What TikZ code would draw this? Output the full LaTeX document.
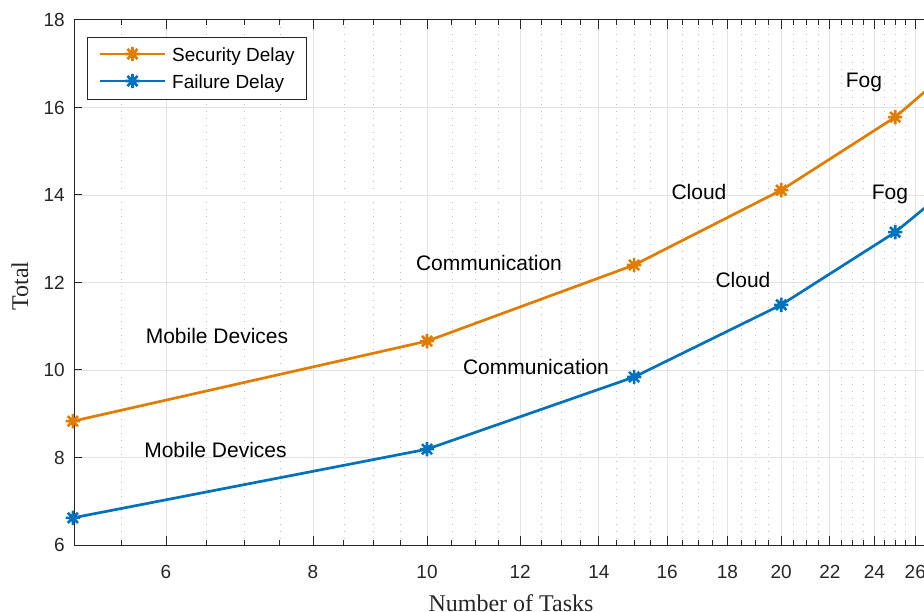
\documentclass[tikz,border=0pt]{standalone}
\usepackage{fontspec}
\usetikzlibrary{calc}
\setmainfont{Liberation Serif}
\newfontfamily\arialfam{Liberation Sans}
\definecolor{axisgray}{RGB}{38,38,38}
\definecolor{gridmajor}{RGB}{226,226,226}
\definecolor{gridminor}{RGB}{190,190,190}
\definecolor{secorange}{RGB}{224,125,0}
\definecolor{failblue}{RGB}{0,114,189}
\tikzset{
  axisline/.style={draw=axisgray, line width=1pt},
  majorgrid/.style={draw=gridmajor, line width=0.9pt},
  minorgrid/.style={draw=gridminor, line width=0.9pt, dash pattern=on 1.2pt off 5.8pt},
  ticklabel/.style={inner sep=0pt, text=axisgray, font=\arialfam\fontsize{19}{19}\selectfont},
  axislabel/.style={inner sep=0pt, text=axisgray, font=\fontsize{24}{24}\selectfont},
  notelabel/.style={inner sep=0pt, anchor=base, text=black, font=\arialfam\fontsize{21}{21}\selectfont},
  legendtext/.style={inner sep=0pt, anchor=base west, text=black, font=\arialfam\fontsize{19}{19}\selectfont},
  dataline/.style={line width=2.7pt, line join=round, line cap=round},
  starmark/.pic={
    \draw[line width=2.6pt, line cap=butt]
      (-7.2,0) -- (7.2,0) (0,-7.2) -- (0,7.2)
      (-5.1,-5.1) -- (5.1,5.1) (-5.1,5.1) -- (5.1,-5.1);
  }
}
\begin{document}
\begin{tikzpicture}[x=1pt, y=-1pt,
  declare function={lx(\t)=166+511*(ln(\t)-ln(6)); ly(\v)=20+43.75*(18-\v);}]
\useasboundingbox (0,0) rectangle (924,612);
\clip (0,0) rectangle (924,612);

% minor grid lines and minor ticks every 0.5 task
\foreach \k in {11,...,60} {
  \pgfmathtruncatemacro\r{mod(\k,4)}
  \ifnum\r>0
    \pgfmathsetmacro\xm{lx(\k/2)}
    \draw[minorgrid] (\xm,20) -- (\xm,545);
    \draw[axisline] (\xm,545) -- ++(0,-5);
    \draw[axisline] (\xm,20) -- ++(0,5);
  \fi
}
% major vertical grid, ticks and labels
\foreach \t in {6,8,...,26} {
  \pgfmathsetmacro\xm{lx(\t)}
  \draw[majorgrid] (\xm,20) -- (\xm,545);
  \draw[axisline] (\xm,545) -- ++(0,-9);
  \draw[axisline] (\xm,20) -- ++(0,9);
  \node[ticklabel, anchor=base] at (\xm,578) {\t};
}
% horizontal grid, y ticks and labels
\foreach \v in {6,8,...,18} {
  \pgfmathsetmacro\ym{ly(\v)}
  \ifnum\v>6 \ifnum\v<18 \draw[majorgrid] (74,\ym) -- (924,\ym); \fi\fi
  \draw[axisline] (74,\ym) -- ++(8,0);
  \node[ticklabel, anchor=east] at (65,\ym) {\v};
}
% axes box
\draw[axisline] (924,20) -- (74,20) -- (74,545) -- (924,545);

% axis titles
\node[axislabel, anchor=base] (xtitle) at (511,611) {Number of Tasks};
\node[axislabel, rotate=90] (ytitle) at (20,286) {Total};

% data points
\coordinate (s1) at ({lx(5)},{ly(8.83)});
\coordinate (s2) at ({lx(10)},{ly(10.66)});
\coordinate (s3) at ({lx(15)},{ly(12.40)});
\coordinate (s4) at ({lx(20)},{ly(14.11)});
\coordinate (s5) at ({lx(25)},{ly(15.78)});
\coordinate (s6) at ({lx(30)},{ly(17.61)});
\coordinate (f1) at ({lx(5)},{ly(6.62)});
\coordinate (f2) at ({lx(10)},{ly(8.19)});
\coordinate (f3) at ({lx(15)},{ly(9.84)});
\coordinate (f4) at ({lx(20)},{ly(11.49)});
\coordinate (f5) at ({lx(25)},{ly(13.15)});
\coordinate (f6) at ({lx(30)},{ly(14.90)});

\draw[dataline, secorange] (s1) -- (s2) -- (s3) -- (s4) -- (s5) -- (s6);
\draw[dataline, failblue] (f1) -- (f2) -- (f3) -- (f4) -- (f5) -- (f6);
\foreach \p in {s1,s2,s3,s4,s5,s6} \pic[secorange] at (\p) {starmark};
\foreach \p in {f1,f2,f3,f4,f5,f6} \pic[failblue] at (\p) {starmark};

% annotations
\node[notelabel] (mobs) at (217,344) {Mobile Devices};
\node[notelabel] (mobf) at (215.5,457) {Mobile Devices};
\node[notelabel] (coms) at (489,271) {Communication};
\node[notelabel] (comf) at (536,374) {Communication};
\node[notelabel] (clds) at (699,200) {Cloud};
\node[notelabel] (cldf) at (743,288) {Cloud};
\node[notelabel] (fogs) at (864,88) {Fog};
\node[notelabel] (fogf) at (890,200) {Fog};

% legend
\node[draw=axisgray, line width=0.9pt, fill=white, anchor=north west,
      minimum width=219pt, minimum height=62pt, inner sep=0pt] (legend) at (87,37) {};
\coordinate (ls1) at (100,54);
\coordinate (ls2) at (165,54);
\coordinate (lf1) at (100,81);
\coordinate (lf2) at (165,81);
\draw[dataline, line cap=butt, secorange] (ls1) -- (ls2);
\draw[dataline, line cap=butt, failblue] (lf1) -- (lf2);
\pic[secorange] at ($(ls1)!0.5!(ls2)$) {starmark};
\pic[failblue] at ($(lf1)!0.5!(lf2)$) {starmark};
\node[legendtext] (lsec) at (172,62) {Security Delay};
\node[legendtext] (lfail) at (172,89) {Failure Delay};
\end{tikzpicture}
\end{document}
